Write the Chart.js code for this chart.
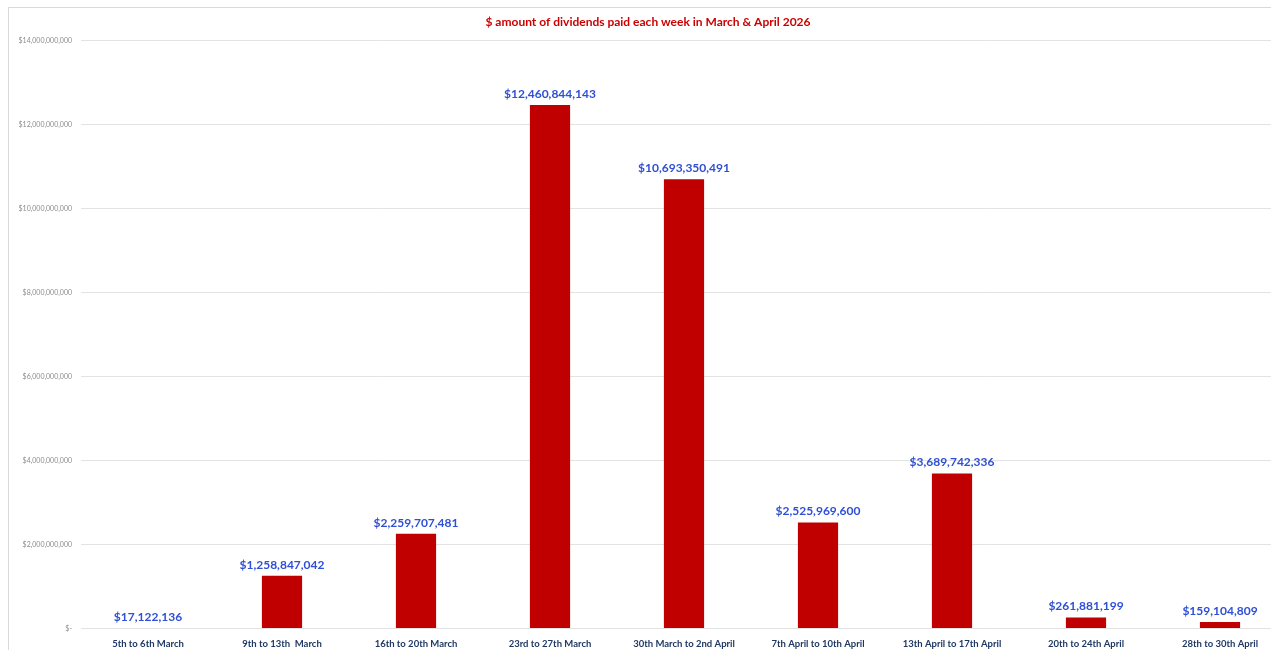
<!DOCTYPE html>
<html>
<head>
<meta charset="utf-8">
<script src="https://cdn.jsdelivr.net/npm/chart.js@4"></script>
<style>
    html, body { margin: 0; padding: 0; background: #fff; overflow: hidden; }
    #frame { position: absolute; left: 8px; top: 7px; width: 1290px; height: 644px; border-left: 1px solid #d9d9d9; border-top: 1px solid #d9d9d9; }
    #wrap { position: absolute; left: 0; top: 0; width: 1278px; height: 644px; }
</style>
</head>
<body>
<div id="frame"><div id="wrap"><canvas id="divChart"></canvas></div></div>
<script>
const weeks = ['5th to 6th March', '9th to 13th  March', '16th to 20th March', '23rd to 27th March',
    '30th March to 2nd April', '7th April to 10th April', '13th April to 17th April',
    '20th to 24th April', '28th to 30th April'];
const dividends = [17122136, 1258847042, 2259707481, 12460844143, 10693350491,
    2525969600, 3689742336, 261881199, 159104809];
const yTicks = [0, 2000000000, 4000000000, 6000000000, 8000000000, 10000000000, 12000000000, 14000000000];
const chartTitle = '$ amount of dividends paid each week in March & April 2026';

function fmtMoney(v) {
    if(v === 0) return '$-';
    return '$' + Math.round(v).toLocaleString('en-US');
}

// value labels above bars
const barLabels = {
    id: 'barLabels',
    afterDatasetsDraw(chart) {
        const ctx = chart.ctx;
        const meta = chart.getDatasetMeta(0);
        ctx.save();
        ctx.font = 'bold 12px Lato, "Open Sans", sans-serif';
        ctx.fillStyle = '#2e4fd6';
        ctx.textAlign = 'center';
        ctx.textBaseline = 'middle';
        meta.data.forEach((bar, i) => {
            ctx.fillText(fmtMoney(dividends[i]), bar.x, bar.y - 11);
        });
        ctx.restore();
    }
};

const ctx = document.getElementById('divChart').getContext('2d');
new Chart(ctx, {
    type: 'bar',
    data: {
        labels: weeks,
        datasets: [{
            data: dividends,
            backgroundColor: '#c00000',
            borderWidth: 0,
            categoryPercentage: 1,
            barPercentage: 0.3
        }]
    },
    options: {
        responsive: true, maintainAspectRatio: false, animation: false,
        layout: { padding: { left: 0, right: 0, top: 0, bottom: 0 } },
        plugins: {
            legend: { display: false },
            tooltip: { enabled: false },
            title: {
                display: true, text: chartTitle, color: '#cc0000',
                font: { family: 'Lato, "Open Sans", sans-serif', size: 12, weight: 'bold' },
                padding: { top: 7, bottom: 11 }
            }
        },
        scales: {
            x: {
                grid: { display: false },
                border: { display: false },
                ticks: { color: '#1f3864', maxRotation: 0, autoSkip: false, padding: 2,
                    font: { family: 'Lato, "Open Sans", sans-serif', size: 9.5, weight: 'bold' } }
            },
            y: {
                min: 0, max: 14000000000,
                afterBuildTicks: (scale) => { scale.ticks = yTicks.map(v => ({ value: v })); },
                afterFit: (scale) => { scale.width = 72; },
                grid: { color: '#e3e3e3', drawTicks: false },
                border: { display: false },
                ticks: { color: '#8c8c8c', padding: 9, callback: (v) => fmtMoney(v),
                    font: { family: 'Lato, "Open Sans", sans-serif', size: 7 } }
            }
        }
    },
    plugins: [barLabels]
});
</script>
</body>
</html>
